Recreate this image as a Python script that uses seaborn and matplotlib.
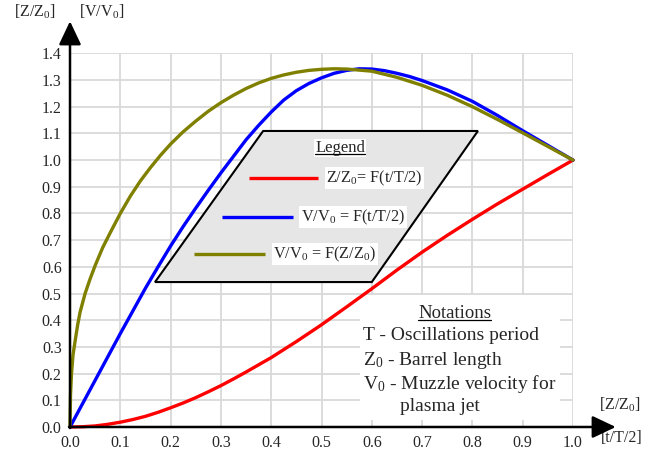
import numpy as np
import pandas as pd
import seaborn as sns
import matplotlib.pyplot as plt
from matplotlib.patches import Polygon, Rectangle
from matplotlib.lines import Line2D

# values
t_red = [0.0, 0.025, 0.05, 0.075, 0.1, 0.125, 0.15, 0.175, 0.2, 0.225, 0.25, 0.275,
         0.3, 0.325, 0.35, 0.375, 0.4, 0.45, 0.5, 0.55, 0.6, 0.65, 0.7, 0.75,
         0.8, 0.85, 0.9, 0.95, 1.0]
z_of_t = [0.0, 0.001, 0.004, 0.010, 0.018, 0.028, 0.040, 0.055, 0.072, 0.090, 0.110, 0.132,
          0.155, 0.180, 0.206, 0.233, 0.260, 0.320, 0.383, 0.450, 0.518, 0.588, 0.655, 0.718,
          0.778, 0.836, 0.891, 0.946, 1.0]

t_blue = [0.0, 0.05, 0.1, 0.15, 0.175, 0.2, 0.225, 0.25, 0.275, 0.3, 0.35, 0.375, 0.4,
          0.425, 0.45, 0.475, 0.5, 0.525, 0.55, 0.575, 0.6, 0.625, 0.65, 0.675, 0.7,
          0.75, 0.8, 0.85, 0.9, 0.95, 1.0]
v_of_t = [0.0, 0.175, 0.35, 0.52, 0.60, 0.678, 0.751, 0.82, 0.887, 0.952, 1.076, 1.13, 1.18,
          1.225, 1.26, 1.287, 1.308, 1.325, 1.336, 1.342, 1.341, 1.335, 1.325, 1.313, 1.298,
          1.263, 1.22, 1.167, 1.11, 1.055, 1.0]

z_pos = [0.0, 0.001, 0.003, 0.006, 0.01, 0.015, 0.02, 0.03, 0.04, 0.05, 0.065, 0.08,
         0.1, 0.12, 0.14, 0.16, 0.18, 0.2, 0.225, 0.25, 0.275, 0.3, 0.325, 0.35,
         0.375, 0.4, 0.425, 0.45, 0.475, 0.5, 0.525, 0.55, 0.6, 0.65, 0.7,
         0.75, 0.8, 0.85, 0.9, 0.95, 1.0]
v_of_z = [0.0, 0.12, 0.2, 0.27, 0.32, 0.38, 0.43, 0.5, 0.555, 0.605, 0.672, 0.728,
          0.8, 0.865, 0.922, 0.972, 1.018, 1.06, 1.106, 1.146, 1.183, 1.215, 1.243, 1.268,
          1.289, 1.306, 1.319, 1.329, 1.336, 1.340, 1.342, 1.341, 1.333, 1.31, 1.28,
          1.243, 1.2, 1.152, 1.102, 1.051, 1.0]

x_ticks = [0.0, 0.1, 0.2, 0.3, 0.4, 0.5, 0.6, 0.7, 0.8, 0.9, 1.0]
y_ticks = [0.0, 0.1, 0.2, 0.3, 0.4, 0.5, 0.6, 0.7, 0.8, 0.9, 1.0, 1.1, 1.2, 1.3, 1.4]

legend_labels = ["Z/Z$_0$= F(t/T/2)", "V/V$_0$ = F(t/T/2)", "V/V$_0$ = F(Z/Z$_0$)"]
notation_lines = ["T - Oscillations period", "Z$_0$ - Barrel length",
                  "V$_0$ - Muzzle velocity for", "plasma jet"]

RED, BLUE, OLIVE = "#ff0000", "#0000ff", "#808000"

sns.set_style("white")
plt.rcParams['font.family'] = ['Liberation Serif', 'DejaVu Serif']
plt.rcParams['mathtext.fontset'] = 'custom'
plt.rcParams['mathtext.rm'] = 'Liberation Serif'
plt.rcParams['mathtext.it'] = 'Liberation Serif:italic'

df_red = pd.DataFrame({"t": t_red, "z": z_of_t})
df_blue = pd.DataFrame({"t": t_blue, "v": v_of_t})
df_olive = pd.DataFrame({"z": z_pos, "v": v_of_z})

fig = plt.figure(figsize=(6.67, 4.57), dpi=100)
ax = fig.add_axes([70 / 667, 30 / 457, 503 / 667, 373.7 / 457])

line_kw = dict(lw=2.4, ax=ax, estimator=None, sort=False, clip_on=False, zorder=3)
sns.lineplot(data=df_red, x="t", y="z", color=RED, **line_kw)
sns.lineplot(data=df_blue, x="t", y="v", color=BLUE, **line_kw)
sns.lineplot(data=df_olive, x="z", y="v", color=OLIVE, **line_kw)

ax.set_xlim(0, 1.0)
ax.set_ylim(0, 1.4)
ax.set_xticks(x_ticks)
ax.set_yticks(y_ticks)
ax.set_xticklabels(["%.1f" % v for v in x_ticks], fontsize=11.5)
ax.set_yticklabels(["%.1f" % v for v in y_ticks], fontsize=11.5)
ax.tick_params(direction='out', length=4, width=1, color='#555555', pad=2)
ax.grid(True, color='#d9d9d9', lw=1.3)
ax.set_axisbelow(True)
for s in ax.spines.values():
    s.set_visible(False)
ax.set_xlabel("")
ax.set_ylabel("")

# axes drawn as arrows
arrow_kw = dict(arrowstyle='-|>,head_length=0.8,head_width=0.38', lw=1.8, color='k',
                shrinkA=0, shrinkB=0, mutation_scale=18)
ax.annotate("", xy=(0, 1.52), xytext=(0, -0.004), annotation_clip=False, arrowprops=arrow_kw, zorder=5)
ax.annotate("", xy=(1.085, 0), xytext=(-0.002, 0), annotation_clip=False, arrowprops=arrow_kw, zorder=5)

ax.text(-0.07, 1.555, "[Z/Z$_0$]", ha='center', va='center', fontsize=11.5, clip_on=False)
ax.text(0.062, 1.555, "[V/V$_0$]", ha='center', va='center', fontsize=11.5, clip_on=False)
ax.text(1.093, 0.082, "[Z/Z$_0$]", ha='center', va='center', fontsize=11.5, clip_on=False)
ax.text(1.097, -0.041, "[t/T/2]", ha='center', va='center', fontsize=11.5, clip_on=False)

# legend parallelogram
ax.add_patch(Polygon([(0.169, 0.543), (0.600, 0.543), (0.811, 1.109), (0.384, 1.109)],
                     closed=True, facecolor='#e6e6e6', edgecolor='k', lw=1.5, zorder=4))
texts_to_underline = []
texts_to_underline.append(ax.text(0.537, 1.045, "Legend", ha='center', va='center', fontsize=12,
                                  zorder=6, bbox=dict(facecolor='white', edgecolor='none', pad=1)))
leg_rows = [(0.356, 0.493, 0.933, RED), (0.302, 0.443, 0.787, BLUE), (0.247, 0.388, 0.648, OLIVE)]
for (x0, x1, y, c), lab in zip(leg_rows, legend_labels):
    ax.plot([x0, x1], [y, y], color=c, lw=2.4, zorder=6, solid_capstyle='butt')
    ax.text(x1 + 0.016, y, lab, ha='left', va='center', fontsize=11.7, zorder=6,
            bbox=dict(facecolor='white', edgecolor='none', pad=1))

# notations box
ax.add_patch(Rectangle((0.577, 0.026), 0.397, 0.469, facecolor='white', edgecolor='none', zorder=2))
texts_to_underline.append(ax.text(0.765, 0.427, "Notations", ha='center', va='center', fontsize=13.5, zorder=6))
note_pos = [(0.583, 0.341), (0.583, 0.251), (0.583, 0.161), (0.656, 0.075)]
for (x, y), line in zip(note_pos, notation_lines):
    ax.text(x, y, line, ha='left', va='center', fontsize=14, zorder=6)

# underline the two headings
fig.canvas.draw()
renderer = fig.canvas.get_renderer()
inv = fig.transFigure.inverted()
for txt in texts_to_underline:
    bb = txt.get_window_extent(renderer)
    (xa, ya), (xb, _) = inv.transform([(bb.x0, bb.y0 + 2), (bb.x1, bb.y0 + 2)])
    fig.add_artist(Line2D([xa, xb], [ya, ya], color='k', lw=0.9, zorder=7))

fig.savefig("out.png", dpi=100)
